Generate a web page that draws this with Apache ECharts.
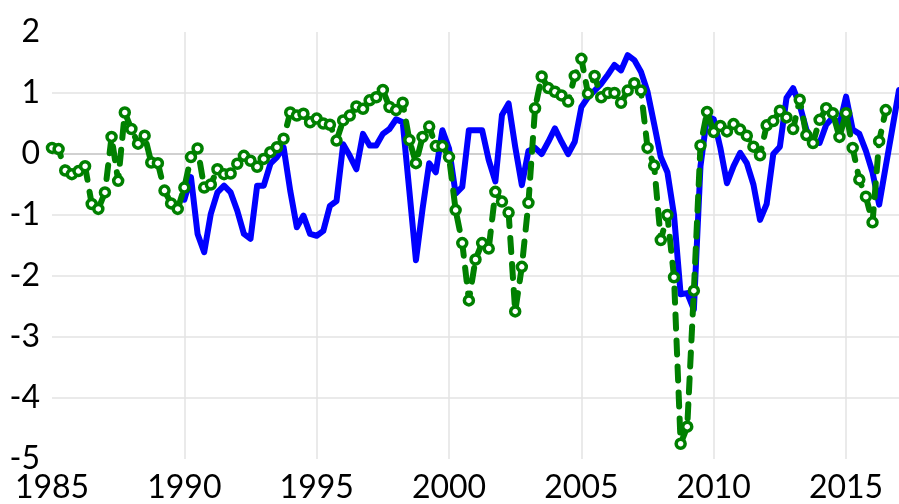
<!DOCTYPE html>
<html>
<head>
<meta charset="utf-8">
<script src="https://cdn.jsdelivr.net/npm/echarts@6/dist/echarts.min.js"></script>
<style>
  html, body { margin: 0; padding: 0; background: #fff; }
  #chart { width: 899px; height: 504px; }
</style>
</head>
<body>
<div id="chart"></div>
<script>
// Quarterly series
const greenStartYear = 1985;   // first quarter of green series
const greenValues = [
  0.1, 0.08, -0.27, -0.33, -0.28, -0.2, -0.82, -0.9, -0.63, 0.28,
  -0.44, 0.68, 0.41, 0.17, 0.3, -0.14, -0.15, -0.6, -0.81, -0.9,
  -0.55, -0.05, 0.09, -0.55, -0.5, -0.25, -0.33, -0.32, -0.16, -0.03,
  -0.11, -0.21, -0.08, 0.03, 0.11, 0.25, 0.68, 0.63, 0.66, 0.52,
  0.58, 0.5, 0.48, 0.22, 0.55, 0.63, 0.78, 0.74, 0.88, 0.93,
  1.05, 0.77, 0.72, 0.84, 0.23, -0.15, 0.28, 0.45, 0.13, 0.13,
  -0.05, -0.92, -1.46, -2.4, -1.73, -1.46, -1.55, -0.62, -0.78, -0.96,
  -2.58, -1.85, -0.8, 0.75, 1.27, 1.08, 1.02, 0.96, 0.86, 1.28,
  1.56, 0.99, 1.28, 0.93, 1.0, 1.0, 0.84, 1.04, 1.16, 1.04,
  0.1, -0.19, -1.41, -1.0, -2.02, -4.75, -4.47, -2.24, 0.14, 0.69,
  0.36, 0.46, 0.37, 0.49, 0.4, 0.3, 0.12, -0.02, 0.47, 0.54,
  0.71, 0.6, 0.41, 0.89, 0.31, 0.18, 0.56, 0.75, 0.67, 0.28,
  0.67, 0.1, -0.42, -0.7, -1.12, 0.21, 0.72
];
const blueStartYear = 1990;
const blueValues = [
  -0.75, -0.38, -1.31, -1.61, -0.98, -0.63, -0.52, -0.63, -0.93, -1.31,
  -1.39, -0.52, -0.52, -0.16, -0.05, 0.11, -0.6, -1.2, -1.01, -1.31,
  -1.34, -1.26, -0.85, -0.77, 0.16, -0.03, -0.25, 0.33, 0.14, 0.14,
  0.33, 0.41, 0.57, 0.52, -0.6, -1.74, -0.9, -0.15, -0.3, 0.39,
  0.09, -0.65, -0.54, 0.39, 0.39, 0.39, -0.1, -0.45, 0.64, 0.83,
  0.12, -0.51, 0.05, 0.1, 0.0, 0.2, 0.42, 0.2, 0.0, 0.2,
  0.77, 0.93, 1.04, 1.15, 1.3, 1.46, 1.37, 1.62, 1.54, 1.35,
  1.02, 0.49, -0.05, -0.3, -1.0, -2.3, -2.28, -2.55, -0.2, 0.62,
  0.57, 0.1, -0.48, -0.2, 0.02, -0.15, -0.5, -1.08, -0.82, 0.0,
  0.12, 0.92, 1.08, 0.8, 0.4, 0.2, 0.18, 0.48, 0.6, 0.48,
  0.94, 0.4, 0.33, 0.05, -0.3, -0.83, -0.2, 0.42, 1.05
];
const xMin = 1985, xMax = 2017, xStep = 5;
const yMin = -5, yMax = 2, yStep = 1;

function toPairs(startYear, vals) {
  return vals.map((v, i) => [startYear + i / 4, v]);
}

const FONT = 'Lato';
const chart = echarts.init(document.getElementById('chart'), null, { renderer: 'canvas' });
chart.setOption({
  animation: false,
  backgroundColor: '#ffffff',
  grid: { left: 52, top: 32, width: 849, height: 427, containLabel: false },
  xAxis: {
    type: 'value', min: xMin, max: xMax, interval: xStep,
    axisLine: { show: false }, axisTick: { show: false },
    axisLabel: { color: '#000', fontFamily: FONT, fontSize: 32, margin: 13, showMaxLabel: false,
                 formatter: v => String(v) },
    splitLine: { show: true, showMinLine: false, showMaxLine: false, lineStyle: { color: '#e3e3e3', width: 1.5 } }
  },
  yAxis: {
    type: 'value', min: yMin, max: yMax, interval: yStep,
    axisLine: { show: false }, axisTick: { show: false },
    axisLabel: { color: '#000', fontFamily: FONT, fontSize: 32, margin: 12, formatter: v => String(v) },
    splitLine: { show: true, showMinLine: false, showMaxLine: false, lineStyle: { color: '#e3e3e3', width: 1.5 } }
  },
  series: [
    {
      type: 'line', name: 'blue', data: toPairs(blueStartYear, blueValues),
      showSymbol: false, symbol: 'none',
      lineStyle: { color: '#0000ff', width: 6, join: 'round', cap: 'round' },
      z: 2,
      markLine: {
        silent: true, symbol: 'none', label: { show: false },
        lineStyle: { color: '#c8c8c8', width: 1.5, type: 'solid' },
        data: [{ yAxis: 0 }], z: 1
      }
    },
    {
      type: 'line', name: 'green', data: toPairs(greenStartYear, greenValues),
      symbol: 'circle', symbolSize: 9, showAllSymbol: true,
      itemStyle: { color: '#ffffff', borderColor: '#008000', borderWidth: 3.5 },
      lineStyle: { color: '#008000', width: 6, type: [14, 12], cap: 'round', join: 'round' },
      z: 3
    }
  ]
});
</script>
</body>
</html>
